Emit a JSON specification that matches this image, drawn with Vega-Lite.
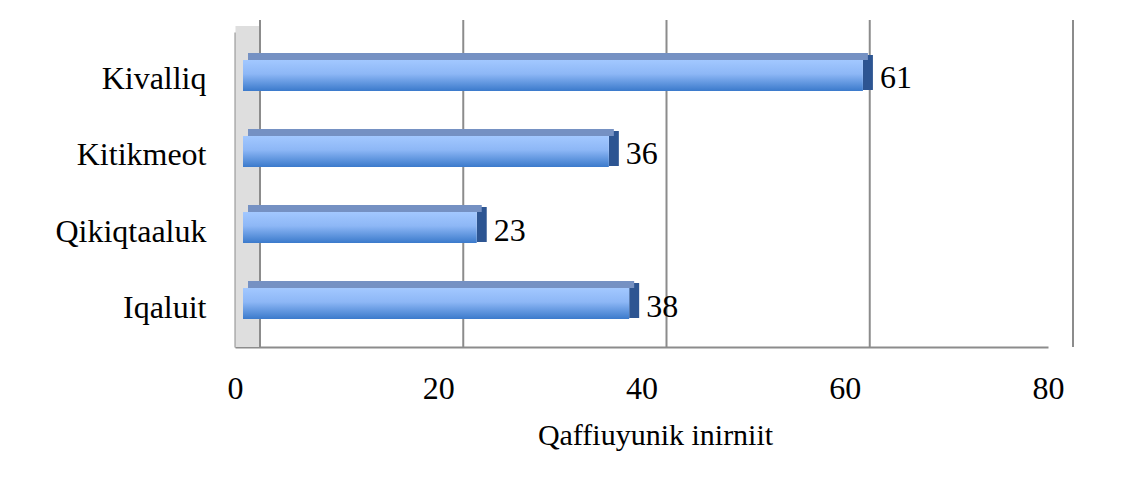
{
  "$schema": "https://vega.github.io/schema/vega-lite/v6.json",
  "width": 813,
  "height": 315,
  "autosize": {"type": "none"},
  "padding": {"left": 235, "top": 32, "right": 92, "bottom": 140},
  "background": "white",
  "config": {
    "view": {"stroke": null},
    "font": "Liberation Serif"
  },
  "datasets": {
    "bars": [
      {"region": "Kivalliq", "count": 61},
      {"region": "Kitikmeot", "count": 36},
      {"region": "Qikiqtaaluk", "count": 23},
      {"region": "Iqaluit", "count": 38}
    ],
    "ticks": [{"v": 0}, {"v": 20}, {"v": 40}, {"v": 60}, {"v": 80}],
    "wall": [{"v": 0}]
  },
  "layer": [
    {
      "data": {"name": "wall"},
      "mark": {"type": "rule", "strokeWidth": 24, "xOffset": 12.5, "yOffset": -6, "color": "#dedede"},
      "encoding": {
        "x": {"field": "v", "type": "quantitative", "scale": {"domain": [0, 80]}}
      }
    },
    {
      "data": {"name": "ticks"},
      "mark": {"type": "rule", "color": "#8c8c8c", "strokeWidth": 2, "xOffset": 25, "yOffset": -12},
      "encoding": {
        "x": {"field": "v", "type": "quantitative", "scale": {"domain": [0, 80]}}
      }
    },
    {
      "data": {"name": "bars"},
      "mark": {"type": "tick", "orient": "vertical", "color": "#2d5592", "opacity": 1, "thickness": 10, "size": 35, "xOffset": 13, "yOffset": -3},
      "encoding": {
        "y": {"field": "region", "type": "nominal", "sort": ["Kivalliq", "Kitikmeot", "Qikiqtaaluk", "Iqaluit"],
              "scale": {"paddingInner": 0, "paddingOuter": 0.072},
              "axis": {"title": null, "ticks": false, "labelFontSize": 32, "labelPadding": 29, "labelColor": "#000000", "labelOffset": 4, "domainColor": "#8c8c8c", "domainWidth": 2}},
        "x": {"field": "count", "type": "quantitative", "scale": {"domain": [0, 80]},
              "axis": {"title": "Qaffiuyunik inirniit", "values": [0, 20, 40, 60, 80], "grid": false, "ticks": false, "labelFlush": false,
                       "labelFontSize": 32, "labelPadding": 26, "labelColor": "#000000",
                       "titleFontSize": 30, "titleFontWeight": "normal", "titleColor": "#000000", "titlePadding": 16, "titleX": 420,
                       "domainColor": "#8c8c8c", "domainWidth": 2}}
      }
    },
    {
      "data": {"name": "bars"},
      "mark": {"type": "bar", "color": "#7591c3", "size": 7, "xOffset": 13, "yOffset": -19},
      "encoding": {
        "y": {"field": "region", "type": "nominal", "sort": ["Kivalliq", "Kitikmeot", "Qikiqtaaluk", "Iqaluit"]},
        "x": {"field": "count", "type": "quantitative"}
      }
    },
    {
      "data": {"name": "bars"},
      "mark": {"type": "bar", "size": 31, "xOffset": 8,
               "color": {"gradient": "linear", "x1": 0, "y1": 0, "x2": 0, "y2": 1,
                         "stops": [{"offset": 0, "color": "#a2c8ff"}, {"offset": 0.45, "color": "#8db7f6"}, {"offset": 1, "color": "#3b7acb"}]}},
      "encoding": {
        "y": {"field": "region", "type": "nominal", "sort": ["Kivalliq", "Kitikmeot", "Qikiqtaaluk", "Iqaluit"]},
        "x": {"field": "count", "type": "quantitative"}
      }
    },
    {
      "data": {"name": "bars"},
      "mark": {"type": "text", "align": "left", "baseline": "middle", "dx": 25, "dy": 3, "fontSize": 32, "color": "#000000"},
      "encoding": {
        "y": {"field": "region", "type": "nominal", "sort": ["Kivalliq", "Kitikmeot", "Qikiqtaaluk", "Iqaluit"]},
        "x": {"field": "count", "type": "quantitative"},
        "text": {"field": "count", "type": "quantitative"}
      }
    }
  ]
}
